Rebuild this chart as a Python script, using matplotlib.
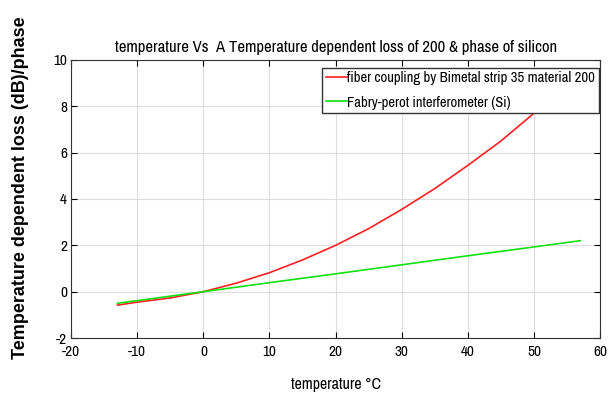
import numpy as np
import matplotlib.pyplot as plt

# values
temp_red = [-13, -10, -5, 0, 5, 10, 15, 20, 25, 30, 35, 40, 45, 50, 55, 57]
loss_red = [-0.58, -0.45, -0.27, 0.0, 0.37, 0.82, 1.37, 2.0, 2.72, 3.55, 4.45, 5.45, 6.5, 7.7, 8.95, 9.4]
temp_green = [-13, 0, 10, 20, 30, 40, 50, 57]
loss_green = [-0.5, 0.0, 0.39, 0.77, 1.16, 1.55, 1.93, 2.2]

xticks = [-20, -10, 0, 10, 20, 30, 40, 50, 60]
yticks = [-2, 0, 2, 4, 6, 8, 10]

narrow = ['Archivo Narrow', 'Roboto Condensed', 'DejaVu Sans']
plt.rcParams['axes.unicode_minus'] = False

fig = plt.figure(figsize=(6.08, 3.94), dpi=100)
ax = fig.add_axes([0.117, 0.142, 0.870, 0.706])

ax.plot(temp_red, loss_red, color='#ff2020', lw=1.2,
        label='fiber coupling by Bimetal strip 35 material 200')
ax.plot(temp_green, loss_green, color='#10e010', lw=1.2,
        label='Fabry-perot interferometer (Si)')

ax.set_xlim(-20, 60)
ax.set_ylim(-2, 10)
ax.set_xticks(xticks)
ax.set_yticks(yticks)
ax.grid(True, color='#dddddd', lw=0.8)
ax.tick_params(direction='in', top=True, right=True, length=4, labelsize=11)
ax.tick_params(axis='y', pad=3)
ax.tick_params(axis='x', pad=5)
for lab in ax.get_xticklabels() + ax.get_yticklabels():
    lab.set_family(narrow)
for s in ax.spines.values():
    s.set_color('#333333')

ax.set_title('temperature Vs  A Temperature dependent loss of 200 & phase of silicon',
             fontsize=12, family=narrow, pad=6)
ax.set_xlabel('temperature \u00b0C', fontsize=11.5, family=narrow, labelpad=13)
ax.set_ylabel('Temperature dependent loss (dB)/phase', fontsize=13,
              fontweight='bold', family='Liberation Sans')
ax.yaxis.set_label_coords(-0.08, 0.54)

leg = ax.legend(loc='upper right', bbox_to_anchor=(0.997, 0.972),
                fancybox=False, edgecolor='#333333', framealpha=1.0,
                prop={'family': narrow, 'size': 10.5}, handlelength=1.45,
                handletextpad=0.0, borderaxespad=0.0, labelspacing=0.7,
                borderpad=0.25)
leg.get_frame().set_linewidth(1.0)

fig.savefig('out.png', dpi=100)
